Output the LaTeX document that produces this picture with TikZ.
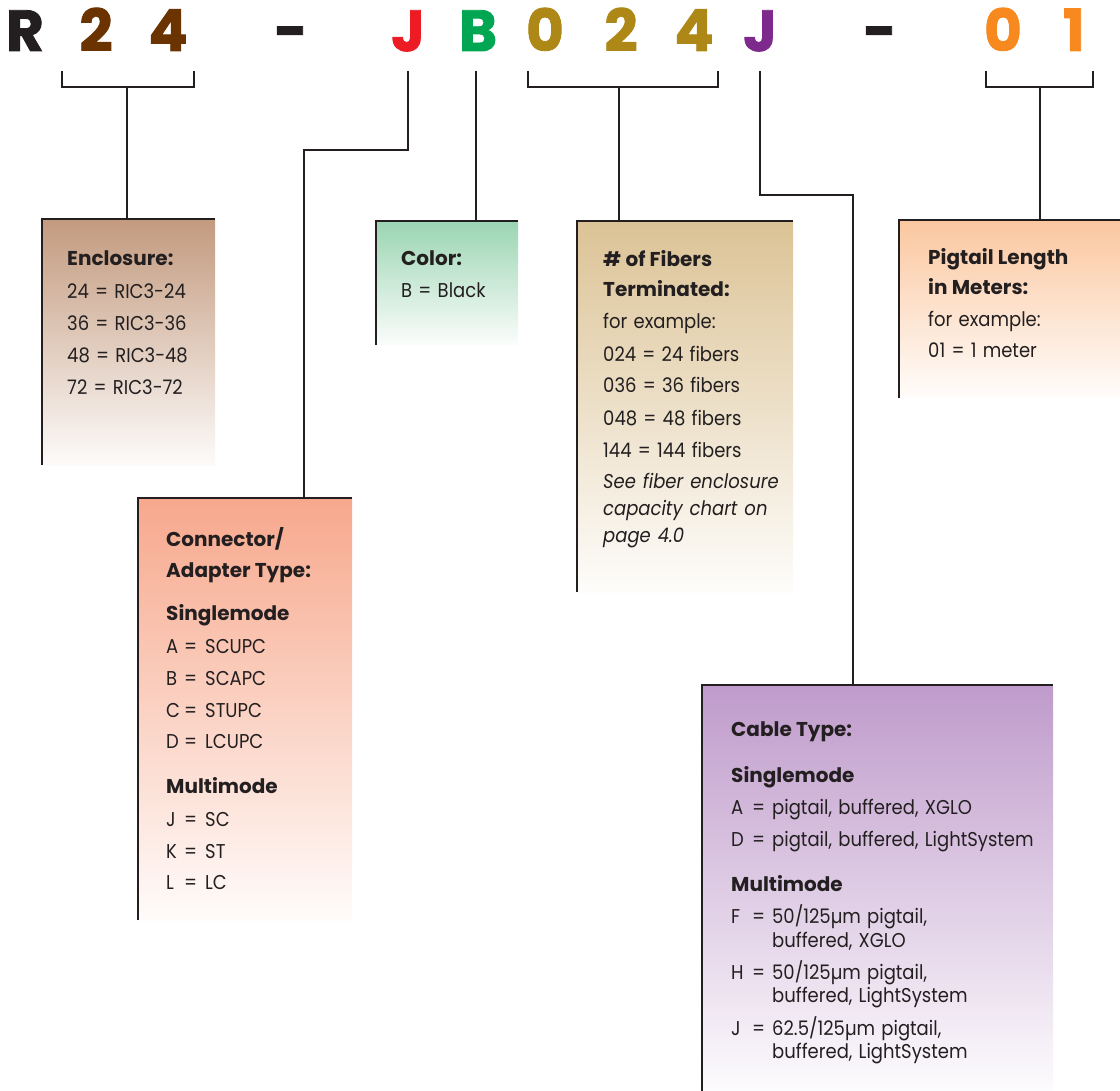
\documentclass[tikz,border=0pt]{standalone}
\usepackage{fontspec}
\setmainfont{Poppins}[UprightFeatures={FakeStretch=0.9, WordSpace=1.3}, ItalicFeatures={FakeStretch=0.9, WordSpace=1.3}]
\newfontfamily\hdrfont{Poppins}[BoldFeatures={FakeBold=1.5}]
\definecolor{ink}{HTML}{231F20}
\definecolor{cbrown}{HTML}{6A3300}
\definecolor{cred}{HTML}{ED1C24}
\definecolor{cgreen}{HTML}{00A651}
\definecolor{cgold}{HTML}{AE8816}
\definecolor{cpurple}{HTML}{7E2A8C}
\definecolor{corange}{HTML}{F7891F}
\definecolor{fenc}{HTML}{C39A7E}
\definecolor{fcol}{HTML}{9BD5B2}
\definecolor{ffib}{HTML}{DCC396}
\definecolor{fpig}{HTML}{FBC79F}
\definecolor{fcon}{HTML}{F7A88C}
\definecolor{fcab}{HTML}{BF9BCB}
\newcommand\kv[4]{\makebox[#1][l]{#3}\makebox[#2][l]{=}#4}
\begin{document}
\begin{tikzpicture}[x=1pt,y=-1pt,
  conn/.style={draw=ink, line width=2.6pt, line join=miter},
  panel/.style={rectangle, inner sep=0pt, outer sep=0pt, anchor=north west, draw=none,
     top color=#1, bottom color=#1!4!white},
  hdr/.style={anchor=base, inner sep=0pt, font=\hdrfont\fontsize{58}{58}\selectfont\bfseries},
  ttl/.style={anchor=base west, inner sep=0pt, text=ink, font=\fontsize{20}{20}\selectfont\bfseries},
  txt/.style={anchor=base west, inner sep=0pt, text=ink, font=\fontsize{20}{20}\selectfont},
  itl/.style={anchor=base west, inner sep=0pt, text=ink, font=\fontsize{20}{20}\selectfont\itshape}]
\useasboundingbox (0,0) rectangle (1120,1091);

% header code
\node[hdr, text=ink] (hR) at (25,51) {R};
\node[hdr, text=cbrown] (h2a) at (96,51) {2};
\node[hdr, text=cbrown] (h4a) at (168,51) {4};
\node[hdr, text=ink] (hd1) at (291,51) {-};
\node[hdr, text=cred] (hJa) at (408,51) {J};
\node[hdr, text=cgreen] (hB) at (478,51) {B};
\node[hdr, text=cgold] (h0a) at (545,51) {0};
\node[hdr, text=cgold] (h2b) at (621,51) {2};
\node[hdr, text=cgold] (h4b) at (694,51) {4};
\node[hdr, text=cpurple] (hJb) at (760,51) {J};
\node[hdr, text=ink] (hd2) at (880,51) {-};
\node[hdr, text=corange] (h0b) at (1003,51) {0};
\node[hdr, text=corange] (h1) at (1074,51) {1};

% panels
\node[panel=fenc, minimum width=173pt, minimum height=246pt] (enc) at (42,219) {};
\node[panel=fcol, minimum width=142pt, minimum height=124pt] (col) at (376,221) {};
\node[panel=ffib, minimum width=216pt, minimum height=371pt] (fib) at (577,221) {};
\node[panel=fpig, minimum width=221pt, minimum height=178pt] (pig) at (899,220) {};
\node[panel=fcon, minimum width=214pt, minimum height=422pt] (con) at (138,498) {};
\node[panel=fcab, minimum width=351pt, minimum height=406pt] (cab) at (702,685) {};

\foreach \p in {enc,col,fib,pig,con,cab}
  \draw[conn] (\p.south west) -- (\p.north west) -- (\p.north east);

% connectors
\coordinate (b24a) at (62,71);  \coordinate (b24b) at (194,71);  \coordinate (b24c) at (127,87);
\coordinate (b024a) at (528,71); \coordinate (b024b) at (718,71); \coordinate (b024c) at (619,87);
\coordinate (b01a) at (986,71);  \coordinate (b01b) at (1093,71); \coordinate (b01c) at (1040,87);
\coordinate (jrt) at (408,71); \coordinate (jrk) at (304,150);
\coordinate (bgt) at (476,71);
\coordinate (jpt) at (760,71); \coordinate (jpk) at (853,195);

\draw[conn] (b24a) |- (b24c) -| (b24b);
\draw[conn] (b24c) -- (b24c |- enc.north);
\draw[conn] (b024a) |- (b024c) -| (b024b);
\draw[conn] (b024c) -- (b024c |- fib.north);
\draw[conn] (b01a) |- (b01c) -| (b01b);
\draw[conn] (b01c) -- (b01c |- pig.north);
\draw[conn] (jrt) |- (jrk) -- (jrk |- con.north);
\draw[conn] (bgt) -- (bgt |- col.north);
\draw[conn] (jpt) |- (jpk) -- (jpk |- cab.north);

% Enclosure
\node[ttl] (e0) at (67,266) {Enclosure:};
\node[txt] (e1) at (67,299) {24 = RIC3-24};
\node[txt] (e2) at (67,331) {36 = RIC3-36};
\node[txt] (e3) at (67,363) {48 = RIC3-48};
\node[txt] (e4) at (67,395) {72 = RIC3-72};

% Color
\node[ttl] (c0) at (401,266) {Color:};
\node[txt] (c1) at (401,298) {B = Black};

% Fibers
\node[ttl] (f0) at (603,267) {\# of Fibers};
\node[ttl] (f1) at (603,297) {Terminated:};
\node[txt] (f2) at (603,329) {for example:};
\node[txt] (f3) at (603,362) {024 = 24 fibers};
\node[txt] (f4) at (603,393) {036 = 36 fibers};
\node[txt] (f5) at (603,425) {048 = 48 fibers};
\node[txt] (f6) at (603,457) {144 = 144 fibers};
\node[itl] (f7) at (603,488) {See fiber enclosure};
\node[itl] (f8) at (603,515) {capacity chart on};
\node[itl] (f9) at (603,542) {page 4.0};

% Pigtail
\node[ttl] (p0) at (928,265) {Pigtail Length};
\node[ttl] (p1) at (928,295) {in Meters:};
\node[txt] (p2) at (928,327) {for example:};
\node[txt] (p3) at (928,358) {01 = 1 meter};

% Connector
\node[ttl] (k0) at (166,546) {Connector/};
\node[ttl] (k1) at (166,577) {Adapter Type:};
\node[ttl] (k2) at (166,620) {Singlemode};
\node[txt] (k3) at (166,653) {\kv{18pt}{21pt}{A}{SCUPC}};
\node[txt] (k4) at (166,685) {\kv{18pt}{21pt}{B}{SCAPC}};
\node[txt] (k5) at (166,717) {\kv{18pt}{21pt}{C}{STUPC}};
\node[txt] (k6) at (166,748) {\kv{18pt}{21pt}{D}{LCUPC}};
\node[ttl] (k7) at (166,793) {Multimode};
\node[txt] (k8) at (166,826) {\kv{18pt}{21pt}{J}{SC}};
\node[txt] (k9) at (166,858) {\kv{18pt}{21pt}{K}{ST}};
\node[txt] (k10) at (166,889) {\kv{18pt}{21pt}{L}{LC}};

% Cable
\node[ttl] (t0) at (731,736) {Cable Type:};
\node[ttl] (t1) at (731,782) {Singlemode};
\node[txt] (t2) at (731,814) {\kv{21pt}{20pt}{A}{pigtail, buffered, XGLO}};
\node[txt] (t3) at (731,846) {\kv{21pt}{20pt}{D}{pigtail, buffered, LightSystem}};
\node[ttl] (t4) at (731,891) {Multimode};
\node[txt] (t5) at (731,923) {\kv{21pt}{20pt}{F}{50/125µm pigtail,}};
\node[txt] (t6) at (772,947) {buffered, XGLO};
\node[txt] (t7) at (731,979) {\kv{21pt}{20pt}{H}{50/125µm pigtail,}};
\node[txt] (t8) at (772,1002) {buffered, LightSystem};
\node[txt] (t9) at (731,1035) {\kv{21pt}{20pt}{J}{62.5/125µm pigtail,}};
\node[txt] (t10) at (772,1058) {buffered, LightSystem};
\end{tikzpicture}
\end{document}
